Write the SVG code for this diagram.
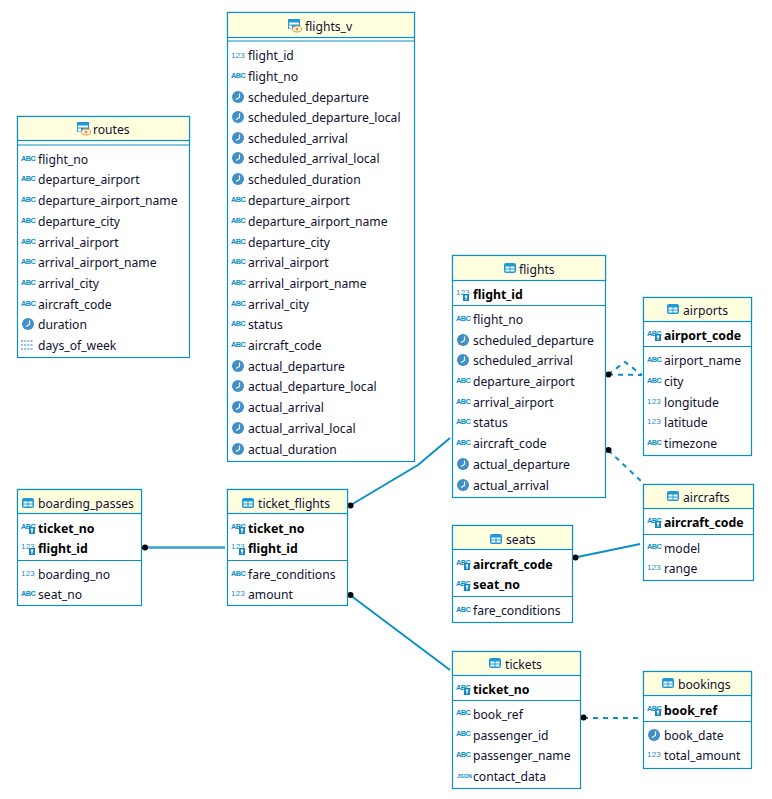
<svg xmlns="http://www.w3.org/2000/svg" xmlns:xlink="http://www.w3.org/1999/xlink" width="772" height="799" viewBox="0 0 772 799">
<style>
.box{fill:#fff;stroke:#0a8fc7;stroke-width:1.2}
.hd{fill:#ffffe0;stroke:#0a8fc7;stroke-width:1.2}
.sep{stroke:#0a8fc7;stroke-width:1.2;fill:none}
text{font-family:"Noto Sans","Open Sans","Liberation Sans",sans-serif;font-size:12.15px;fill:#101030}
.b{font-size:12.3px;font-weight:700;fill:#000}
.i{font-family:"Liberation Sans",sans-serif;font-size:7.4px;font-weight:700;fill:#0a8fc7;letter-spacing:-.6px}
.n{font-size:8px;font-weight:400;fill:#1f8fd0;letter-spacing:.2px}
.c{fill:none;stroke:#0a8fc7;stroke-width:2}
.d{stroke-dasharray:5 5}
.dot{fill:#000}
</style>
<defs>
<g id="tb"><rect x="0" y="0" width="12" height="10" rx="2" fill="#1d9ad6"/><rect x="1.500" y="3.500" width="4" height="2" fill="#fff"/><rect x="6.500" y="3.500" width="4" height="2" fill="#fff"/><rect x="1.500" y="6.500" width="4" height="2" fill="#fff"/><rect x="6.500" y="6.500" width="4" height="2" fill="#fff"/></g>
<g id="vw"><rect x="0" y="0" width="12" height="10" fill="#1d9ad6"/><rect x="1" y="3.500" width="10" height="2" fill="#fff"/><rect x="1" y="6.500" width="3" height="3" fill="#fff"/><ellipse cx="9" cy="10" rx="4.500" ry="3" fill="#fff" stroke="#e8912d"/><circle cx="9" cy="10" r="1.500" fill="#e8912d"/></g>
<g id="clk"><circle cx="6" cy="6" r="6" fill="#3f8fcb"/><path d="M7.500 2.500V6.500L4 8.500" stroke="#fff" fill="none" stroke-width="1.200"/></g>
<g id="key"><rect x="5" y="3" width="6" height="7" fill="#1487c4"/><circle cx="8" cy="5.500" r="1.200" fill="#fff"/><rect x="7.500" y="6" width="1" height="3" fill="#fff"/></g>
<g id="grid"><path d="M0 1h12M0 5h12M0 9h12" stroke="#1d7fb8" stroke-dasharray="2 1.200" fill="none"/></g>
</defs>

<g id="connectors">
<path class="c" style="stroke-width:2.500;stroke:#3aa0d4" d="M145 547.500H225"/>
<path class="c" d="M350 505.500L418 465L450 438"/>
<path class="c" d="M575 557.500L640 544"/>
<path class="c" d="M350 595L450 670"/>
<path class="c d" d="M608 450L642 482"/>
<path class="c d" d="M608 374.500L642 375"/>
<path class="c d" d="M608 374.500L625 362L642 375"/>
<path class="c d" d="M583 718H638"/>
<circle class="dot" cx="145" cy="547.500" r="3"/>
<circle class="dot" cx="350.500" cy="505.500" r="3"/>
<circle class="dot" cx="575.500" cy="557.500" r="3"/>
<circle class="dot" cx="350.500" cy="595" r="3"/>
<circle class="dot" cx="608.500" cy="450" r="3"/>
<circle class="dot" cx="608.500" cy="374.500" r="3"/>
<circle class="dot" cx="583.500" cy="717.500" r="3"/>
</g>

<g id="routes">
<rect class="box" x="17.500" y="116.500" width="172" height="241"/>
<rect class="hd" x="17.500" y="116.500" width="172" height="24"/>
<path class="sep" d="M17.500 145H189.500"/>
<use href="#vw" x="77" y="122"/>
<text x="93" y="134">routes</text>
<text class="i" x="21" y="161">ABC</text><text x="38" y="164">flight_no</text>
<text class="i" x="21" y="181">ABC</text><text x="38" y="184">departure_airport</text>
<text class="i" x="21" y="202">ABC</text><text x="38" y="205">departure_airport_name</text>
<text class="i" x="21" y="223">ABC</text><text x="38" y="226">departure_city</text>
<text class="i" x="21" y="244">ABC</text><text x="38" y="247">arrival_airport</text>
<text class="i" x="21" y="264">ABC</text><text x="38" y="267">arrival_airport_name</text>
<text class="i" x="21" y="285">ABC</text><text x="38" y="288">arrival_city</text>
<text class="i" x="21" y="306">ABC</text><text x="38" y="309">aircraft_code</text>
<use href="#clk" x="22" y="318"/><text x="38" y="329">duration</text>
<use href="#grid" x="21" y="340"/><text x="38" y="350">days_of_week</text>
</g>

<g id="flights_v">
<rect class="box" x="227.500" y="12.500" width="187" height="449"/>
<rect class="hd" x="227.500" y="12.500" width="187" height="25"/>
<path class="sep" d="M227.500 41H414.500"/>
<use href="#vw" x="288" y="19"/>
<text x="305" y="31">flights_v</text>
<text class="i n" x="231" y="58">123</text><text x="248" y="60">flight_id</text>
<text class="i" x="231" y="78">ABC</text><text x="248" y="81">flight_no</text>
<use href="#clk" x="232" y="91"/><text x="248" y="102">scheduled_departure</text>
<use href="#clk" x="232" y="111"/><text x="248" y="122">scheduled_departure_local</text>
<use href="#clk" x="232" y="132"/><text x="248" y="143">scheduled_arrival</text>
<use href="#clk" x="232" y="152"/><text x="248" y="163">scheduled_arrival_local</text>
<use href="#clk" x="232" y="173"/><text x="248" y="184">scheduled_duration</text>
<text class="i" x="231" y="202">ABC</text><text x="248" y="205">departure_airport</text>
<text class="i" x="231" y="223">ABC</text><text x="248" y="226">departure_airport_name</text>
<text class="i" x="231" y="244">ABC</text><text x="248" y="247">departure_city</text>
<text class="i" x="231" y="264">ABC</text><text x="248" y="267">arrival_airport</text>
<text class="i" x="231" y="285">ABC</text><text x="248" y="288">arrival_airport_name</text>
<text class="i" x="231" y="306">ABC</text><text x="248" y="309">arrival_city</text>
<text class="i" x="231" y="326">ABC</text><text x="248" y="329">status</text>
<text class="i" x="231" y="347">ABC</text><text x="248" y="350">aircraft_code</text>
<use href="#clk" x="232" y="360"/><text x="248" y="371">actual_departure</text>
<use href="#clk" x="232" y="380"/><text x="248" y="391">actual_departure_local</text>
<use href="#clk" x="232" y="401"/><text x="248" y="412">actual_arrival</text>
<use href="#clk" x="232" y="422"/><text x="248" y="433">actual_arrival_local</text>
<use href="#clk" x="232" y="443"/><text x="248" y="454">actual_duration</text>
</g>

<g id="flights">
<rect class="box" x="452.500" y="255.500" width="153" height="242"/>
<rect class="hd" x="452.500" y="255.500" width="153" height="25"/>
<path class="sep" d="M452.500 305.500H605.500"/>
<use href="#tb" x="504" y="263"/>
<text x="519" y="274">flights</text>
<text class="i n" x="456" y="295">123</text><use href="#key" x="458" y="291"/><text class="b" x="473" y="299">flight_id</text>
<text class="i" x="456" y="321">ABC</text><text x="473" y="324">flight_no</text>
<use href="#clk" x="457" y="334"/><text x="473" y="345">scheduled_departure</text>
<use href="#clk" x="457" y="354"/><text x="473" y="365">scheduled_arrival</text>
<text class="i" x="456" y="383">ABC</text><text x="473" y="386">departure_airport</text>
<text class="i" x="456" y="404">ABC</text><text x="473" y="407">arrival_airport</text>
<text class="i" x="456" y="424">ABC</text><text x="473" y="427">status</text>
<text class="i" x="456" y="445">ABC</text><text x="473" y="448">aircraft_code</text>
<use href="#clk" x="457" y="458"/><text x="473" y="469">actual_departure</text>
<use href="#clk" x="457" y="479"/><text x="473" y="490">actual_arrival</text>
</g>

<g id="airports">
<rect class="box" x="643.500" y="297.500" width="108" height="158"/>
<rect class="hd" x="643.500" y="297.500" width="108" height="24"/>
<path class="sep" d="M643.500 346.500H751.500"/>
<use href="#tb" x="667" y="304"/>
<text x="683" y="315">airports</text>
<text class="i" x="647" y="336">ABC</text><use href="#key" x="650" y="331"/><text class="b" x="664" y="340">airport_code</text>
<text class="i" x="647" y="362">ABC</text><text x="664" y="365">airport_name</text>
<text class="i" x="647" y="383">ABC</text><text x="664" y="386">city</text>
<text class="i n" x="647" y="404">123</text><text x="664" y="407">longitude</text>
<text class="i n" x="647" y="424">123</text><text x="664" y="427">latitude</text>
<text class="i" x="647" y="445">ABC</text><text x="664" y="448">timezone</text>
</g>

<g id="aircrafts">
<rect class="box" x="643.500" y="484.500" width="110" height="96"/>
<rect class="hd" x="643.500" y="484.500" width="110" height="24"/>
<path class="sep" d="M643.500 534.500H753.500"/>
<use href="#tb" x="667" y="491"/>
<text x="683" y="502">aircrafts</text>
<text class="i" x="647" y="523">ABC</text><use href="#key" x="650" y="518"/><text class="b" x="664" y="527">aircraft_code</text>
<text class="i" x="647" y="549">ABC</text><text x="664" y="553">model</text>
<text class="i n" x="647" y="570">123</text><text x="664" y="573">range</text>
</g>

<g id="seats">
<rect class="box" x="452.500" y="525.500" width="120" height="97"/>
<rect class="hd" x="452.500" y="525.500" width="120" height="24"/>
<path class="sep" d="M452.500 596.500H572.500"/>
<use href="#tb" x="490" y="534"/>
<text x="506" y="544">seats</text>
<text class="i" x="456" y="565">ABC</text><use href="#key" x="459" y="560"/><text class="b" x="473" y="569">aircraft_code</text>
<text class="i" x="456" y="586">ABC</text><use href="#key" x="459" y="581"/><text class="b" x="473" y="589">seat_no</text>
<text class="i" x="456" y="612">ABC</text><text x="473" y="615">fare_conditions</text>
</g>

<g id="boarding_passes">
<rect class="box" x="17.500" y="489.500" width="124" height="116"/>
<rect class="hd" x="17.500" y="489.500" width="124" height="24"/>
<path class="sep" d="M17.500 560.500H141.500"/>
<use href="#tb" x="22" y="498"/>
<text x="38" y="508">boarding_passes</text>
<text class="i" x="21" y="529">ABC</text><use href="#key" x="24" y="524"/><text class="b" x="38" y="533">ticket_no</text>
<text class="i n" x="21" y="549">123</text><use href="#key" x="24" y="545"/><text class="b" x="38" y="553">flight_id</text>
<text class="i n" x="21" y="576">123</text><text x="38" y="579">boarding_no</text>
<text class="i" x="21" y="596">ABC</text><text x="38" y="599">seat_no</text>
</g>

<g id="ticket_flights">
<rect class="box" x="227.500" y="489.500" width="120" height="116"/>
<rect class="hd" x="227.500" y="489.500" width="120" height="24"/>
<path class="sep" d="M227.500 560.500H347.500"/>
<use href="#tb" x="242" y="498"/>
<text x="258" y="508">ticket_flights</text>
<text class="i" x="231" y="529">ABC</text><use href="#key" x="234" y="524"/><text class="b" x="248" y="533">ticket_no</text>
<text class="i n" x="231" y="549">123</text><use href="#key" x="234" y="545"/><text class="b" x="248" y="553">flight_id</text>
<text class="i" x="231" y="576">ABC</text><text x="248" y="579">fare_conditions</text>
<text class="i n" x="231" y="596">123</text><text x="248" y="599">amount</text>
</g>

<g id="tickets">
<rect class="box" x="452.500" y="651.500" width="128" height="137"/>
<rect class="hd" x="452.500" y="651.500" width="128" height="24"/>
<path class="sep" d="M452.500 700.500H580.500"/>
<use href="#tb" x="489" y="658"/>
<text x="505" y="669">tickets</text>
<text class="i" x="456" y="690">ABC</text><use href="#key" x="459" y="685"/><text class="b" x="473" y="694">ticket_no</text>
<text class="i" x="456" y="715">ABC</text><text x="473" y="719">book_ref</text>
<text class="i" x="456" y="736">ABC</text><text x="473" y="740">passenger_id</text>
<text class="i" x="456" y="757">ABC</text><text x="473" y="760">passenger_name</text>
<text class="i" style="font-size:5.500px;letter-spacing:0" x="457" y="778">JSON</text><text x="473" y="781">contact_data</text>
</g>

<g id="bookings">
<rect class="box" x="643.500" y="671.500" width="108" height="97"/>
<rect class="hd" x="643.500" y="671.500" width="108" height="24"/>
<path class="sep" d="M643.500 721.500H751.500"/>
<use href="#tb" x="662" y="678"/>
<text x="678" y="689">bookings</text>
<text class="i" x="647" y="711">ABC</text><use href="#key" x="650" y="706"/><text class="b" x="664" y="715">book_ref</text>
<use href="#clk" x="648" y="729"/><text x="664" y="740">book_date</text>
<text class="i n" x="647" y="757">123</text><text x="664" y="760">total_amount</text>
</g>
</svg>
